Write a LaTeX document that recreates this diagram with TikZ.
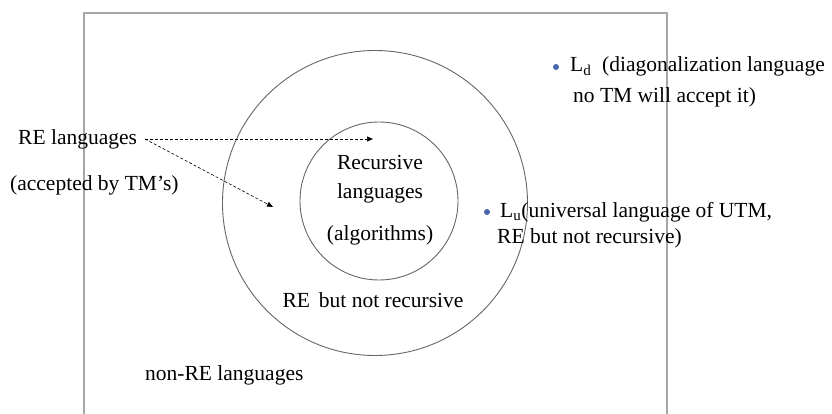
\documentclass[tikz,border=0pt]{standalone}
\usepackage{fontspec}
\setmainfont{Liberation Serif}
\usetikzlibrary{arrows.meta}

\definecolor{dotblue}{RGB}{72,102,170}

\tikzset{
    label text/.style={inner sep=0pt, font=\fontsize{21.5}{25}\selectfont},
    set line/.style={draw=black!60, line width=0.9pt, circle, inner sep=0pt},
    pointer/.style={densely dashed, line width=0.6pt, -{Triangle[length=6pt,width=5pt]}},
    member dot/.style={circle, fill=dotblue, inner sep=0pt, minimum size=6pt},
}

\begin{document}
\begin{tikzpicture}[x=1pt, y=-1pt]
    \useasboundingbox (0,0) rectangle (832,414);

    % Frame of all languages, open at the bottom
    \draw[black!35, line width=1.6pt] (84,414) -- (84,13) -- (667,13) -- (667,414);

    % The two nested sets
    \node[set line, minimum size=305pt] (re_set) at (375,203) {};
    \node[set line, minimum size=158pt] (rec_set) at (379,201) {};

    % Texts inside the sets
    \node[label text, anchor=base] (rec_1) at (380,170) {Recursive};
    \node[label text, anchor=base] (rec_2) at (380,198) {languages};
    \node[label text, anchor=base] (rec_3) at (380,240) {(algorithms)};
    \node[label text, anchor=base] (re_only) at (373,307) {RE\, but not recursive};

    % Texts on the left
    \node[label text, anchor=base west] (re_lang) at (18,145) {RE languages};
    \node[label text, anchor=base west] (re_tm) at (10,190) {(accepted by TM's)};
    \node[label text, anchor=base west] (non_re) at (145,380) {non-RE languages};

    % Special languages with their dots
    \node[member dot] (dot_d) at (556,67) {};
    \node[label text, anchor=base west] (l_d) at (570,72) {L\textsubscript{d}\enspace(diagonalization language};
    \node[label text, anchor=base west] (l_d_2) at (573,103) {no TM will accept it)};
    \node[member dot] (dot_u) at (487,212) {};
    \node[label text, anchor=base west] (l_u) at (500,217) {L\textsubscript{u}(universal language of UTM,};
    \node[label text, anchor=base west] (l_u_2) at (497,243) {RE but not recursive)};

    % Pointers from the RE label
    \coordinate (from_re) at (145,139);
    \coordinate (tip_1) at (373,139);
    \coordinate (tip_2) at (273,207);
    \draw[pointer] (from_re) -- (tip_1);
    \draw[pointer] (from_re) -- (tip_2);

\end{tikzpicture}
\end{document}
